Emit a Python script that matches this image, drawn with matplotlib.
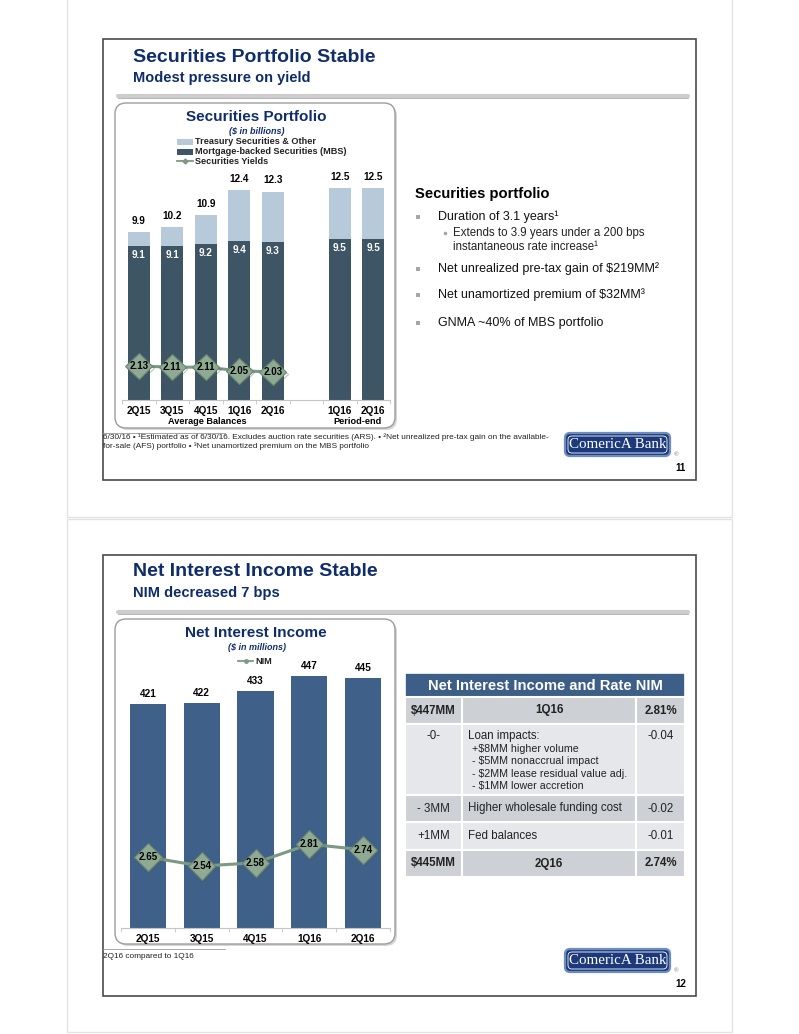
import matplotlib
matplotlib.use('Agg')
import matplotlib.pyplot as plt
from matplotlib.patches import Rectangle, FancyBboxPatch
import matplotlib.patheffects as pe
import numpy as np

W, H = 799, 1034
plt.rcParams['font.family'] = ['Liberation Sans', 'DejaVu Sans']

# ---------------- data ----------------
sec_labels = ['2Q15', '3Q15', '4Q15', '1Q16', '2Q16', '1Q16', '2Q16']
sec_pos = [0, 1, 2, 3, 4, 6, 7]
sec_total = [9.9, 10.2, 10.9, 12.4, 12.3, 12.5, 12.5]
sec_mbs = [9.1, 9.1, 9.2, 9.4, 9.3, 9.5, 9.5]
sec_yields = [2.13, 2.11, 2.11, 2.05, 2.03]

nii_labels = ['2Q15', '3Q15', '4Q15', '1Q16', '2Q16']
nii_values = [421, 422, 433, 447, 445]
nim_values = [2.65, 2.54, 2.58, 2.81, 2.74]

table_header = 'Net Interest Income and Rate NIM'
table_rows = [
    ('$447MM', '1Q16', '2.81%'),
    ('-0-', 'Loan impacts:', '-0.04'),
    ('- 3MM', 'Higher wholesale funding cost', '-0.02'),
    ('+1MM', 'Fed balances', '-0.01'),
    ('$445MM', '2Q16', '2.74%'),
]
loan_sub = ['+$8MM higher volume', '- $5MM nonaccrual impact',
            '- $2MM lease residual value adj.', '- $1MM lower accretion']

# ---------------- style ----------------
NAVY = '#0f2d6c'
MBS_C = '#3e5566'
TREAS_C = '#b7cad9'
NII_C = '#3f6189'
DIA_FACE = '#8eaa93'
DIA_EDGE = '#6a8771'
LINE_C = '#7b9a82'
SHADOW = [pe.SimpleLineShadow(offset=(1.2, -1.2), alpha=0.35, shadow_color='#555555'), pe.Normal()]

fig = plt.figure(figsize=(W / 100, H / 100), dpi=100)
ov = fig.add_axes([0, 0, 1, 1])
ov.set_xlim(0, W)
ov.set_ylim(H, 0)
ov.axis('off')


def fbox(x0, y0, x1, y1):
    return [x0 / W, 1 - y1 / H, (x1 - x0) / W, (y1 - y0) / H]


def txt(x, y, s, size, color='black', weight='normal', ha='left', style='normal', **kw):
    ov.text(x, y, s, fontsize=size, color=color, fontweight=weight, ha=ha,
            va='center', fontstyle=style, **kw)


# pages
ov.add_patch(Rectangle((67, -5), 665, 522, fc='white', ec='#e2e2e2', lw=1))
ov.add_patch(Rectangle((67, 519), 665, 513, fc='white', ec='#e2e2e2', lw=1))

for off, num in ((0, '11'), (516, '12')):
    ov.add_patch(Rectangle((103, 39 + off), 593, 441, fc='white', ec='#4a4a4a', lw=1.2))
    ov.plot([118, 688], [96 + off] * 2, color='#cdcdcd', lw=3, solid_capstyle='round')
    ov.plot([118, 688], [97.6 + off] * 2, color='#a9a9a9', lw=0.6)
    # chart box
    ov.add_patch(FancyBboxPatch((117, 105 + off), 280, 325, boxstyle='round,pad=0,rounding_size=11',
                                fc='#d6d6d6', ec='none'))
    ov.add_patch(FancyBboxPatch((115, 103 + off), 280, 325, boxstyle='round,pad=0,rounding_size=11',
                                fc='white', ec='#9c9c9c', lw=1))
    ov.plot([103, 225], [433 + off] * 2, color='#9a9a9a', lw=0.6)
    # logo
    ov.add_patch(FancyBboxPatch((565, 433 + off), 105, 23, boxstyle='round,pad=0,rounding_size=5',
                                fc='#1c3a7b', ec='#6d8cc0', lw=1.6))
    ov.add_patch(FancyBboxPatch((568, 436 + off), 99, 17, boxstyle='round,pad=0,rounding_size=4',
                                fc='none', ec='white', lw=0.6))
    txt(617.5, 444.5 + off, 'ComericA Bank', 10.8, color='white', ha='center', family='Liberation Serif')
    txt(676, 455 + off, '®', 4.5, color='#777777', ha='center')
    txt(681, 468 + off, num, 7, weight='bold', ha='center')

# titles
txt(133, 57, 'Securities Portfolio Stable', 14, color=NAVY, weight='bold')
txt(133, 78, 'Modest pressure on yield', 10.5, color=NAVY, weight='bold')
txt(133, 572, 'Net Interest Income Stable', 14, color=NAVY, weight='bold')
txt(133, 593, 'NIM decreased 7 bps', 10.5, color=NAVY, weight='bold')

# ---------------- chart 1 ----------------
txt(256, 117, 'Securities Portfolio', 11, color=NAVY, weight='bold', ha='center')
txt(257, 131, '($ in billions)', 6.5, color=NAVY, weight='bold', ha='center', style='italic')
ov.add_patch(Rectangle((177, 139), 16, 6, fc=TREAS_C, ec='none'))
txt(195, 142, 'Treasury Securities & Other', 6.6, weight='bold', color='#222222')
ov.add_patch(Rectangle((177, 149), 16, 6, fc=MBS_C, ec='none'))
txt(195, 152, 'Mortgage-backed Securities (MBS)', 6.6, weight='bold', color='#222222')
ov.plot([177, 193], [161, 161], color=LINE_C, lw=1.3)
ov.plot([185], [161], marker='D', ms=2.5, color=LINE_C)
txt(195, 161, 'Securities Yields', 6.6, weight='bold', color='#222222')

treas = [t - m for t, m in zip(sec_total, sec_mbs)]
ax1 = fig.add_axes(fbox(122, 170, 390, 400))
ax1.patch.set_alpha(0)
ax1.bar(sec_pos, sec_mbs, width=0.65, color=MBS_C)
ax1.bar(sec_pos, treas, bottom=sec_mbs, width=0.65, color=TREAS_C)
ax1.set_xlim(-0.5, 7.5)
ax1.set_ylim(0, 230 / 16.95)
for s in ('top', 'left', 'right'):
    ax1.spines[s].set_visible(False)
ax1.spines['bottom'].set_color('#c4c4c4')
ax1.spines['bottom'].set_linewidth(0.8)
ax1.set_yticks([])
ax1.set_xticks(sec_pos, sec_labels, fontsize=7.2, fontweight='bold')
ax1.set_xticks(np.arange(-0.5, 8, 1), minor=True)
ax1.tick_params(axis='x', which='major', length=0, pad=4)
ax1.tick_params(axis='x', which='minor', length=3, color='#c4c4c4')
for p, t, m in zip(sec_pos, sec_total, sec_mbs):
    ax1.annotate(f'{t:.1f}', (p, t), xytext=(0, 8), textcoords='offset points',
                 ha='center', va='center', fontsize=7.2, fontweight='bold')
    ax1.annotate(f'{m:.1f}', (p, m), xytext=(0, -6.5), textcoords='offset points',
                 ha='center', va='center', fontsize=7.2, fontweight='bold', color='white')
ax1b = ax1.twinx()
ax1b.set_ylim(1.563, 1.563 + 230 / 60)
ax1b.axis('off')
ax1b.plot(sec_pos[:5], sec_yields, color=LINE_C, lw=2.2)
ax1b.plot(sec_pos[:5], sec_yields, ls='none', marker='D', ms=13.5,
          mfc=DIA_FACE, mec=DIA_EDGE, mew=0.8, path_effects=SHADOW)
for p, v in zip(sec_pos, sec_yields):
    ax1b.text(p, v, f'{v:.2f}', ha='center', va='center', fontsize=7, fontweight='bold')
txt(207, 421, 'Average Balances', 6.6, weight='bold', ha='center')
txt(357, 421, 'Period-end', 6.6, weight='bold', ha='center')

# right text slide 1
txt(415, 194, 'Securities portfolio', 10.6, weight='bold')
bul = [(217, 'Duration of 3.1 years¹'), (269, 'Net unrealized pre-tax gain of $219MM²'),
       (295, 'Net unamortized premium of $32MM³'), (323, 'GNMA ~40% of MBS portfolio')]
for y, s in bul:
    ov.add_patch(Rectangle((416, y - 2), 3.5, 3.5, fc='#a6a6a6', ec='none'))
    txt(438, y, s, 9, color='#111111')
ov.plot([445], [233], marker='o', ms=1.6, color='#a6a6a6')
txt(453, 233, 'Extends to 3.9 years under a 200 bps', 8.3, color='#222222')
txt(453, 247, 'instantaneous rate increase¹', 8.3, color='#222222')

txt(103, 437, '6/30/16 • ¹Estimated as of 6/30/16. Excludes auction rate securities (ARS). • ²Net unrealized pre-tax gain on the available-',
    5.95, color='#222222')
txt(103, 446, 'for-sale (AFS) portfolio • ³Net unamortized premium on the MBS portfolio', 5.95, color='#222222')

# ---------------- chart 2 ----------------
txt(256, 633, 'Net Interest Income', 11, color=NAVY, weight='bold', ha='center')
txt(257, 647, '($ in millions)', 6.5, color=NAVY, weight='bold', ha='center', style='italic')
ov.plot([238, 253], [661, 661], color=LINE_C, lw=1.3)
ov.plot([245.5], [661], marker='o', ms=2.5, color=LINE_C)
txt(255, 661, 'NIM', 6.6, weight='bold', color='#222222')

x2 = np.arange(len(nii_labels))
ax2 = fig.add_axes(fbox(121, 660, 390, 928))
ax2.patch.set_alpha(0)
ax2.bar(x2, nii_values, width=0.67, color=NII_C)
ax2.set_xlim(-0.5, 4.5)
ax2.set_ylim(213, 213 + 268 / 1.077)
for s in ('top', 'left', 'right'):
    ax2.spines[s].set_visible(False)
ax2.spines['bottom'].set_color('#c4c4c4')
ax2.spines['bottom'].set_linewidth(0.8)
ax2.set_yticks([])
ax2.set_xticks(x2, nii_labels, fontsize=7.2, fontweight='bold')
ax2.set_xticks(np.arange(-0.5, 5, 1), minor=True)
ax2.tick_params(axis='x', which='major', length=0, pad=4.5)
ax2.tick_params(axis='x', which='minor', length=3, color='#c4c4c4')
for p, v in zip(x2, nii_values):
    ax2.annotate(f'{v}', (p, v), xytext=(0, 7.3), textcoords='offset points',
                 ha='center', va='center', fontsize=7.2, fontweight='bold')
ax2b = ax2.twinx()
ax2b.set_ylim(1.775, 1.775 + 268 / 81)
ax2b.axis('off')
ax2b.plot(x2, nim_values, color=LINE_C, lw=2.2)
ax2b.plot(x2, nim_values, ls='none', marker='D', ms=14,
          mfc=DIA_FACE, mec=DIA_EDGE, mew=0.8, path_effects=SHADOW)
for p, v in zip(x2, nim_values):
    ax2b.text(p, v, f'{v:.2f}', ha='center', va='center', fontsize=7, fontweight='bold')

txt(103, 956, '2Q16 compared to 1Q16', 5.95, color='#222222')

# ---------------- table ----------------
cols = [405, 462, 636, 685]
rows_y = [697, 724, 795, 822, 850, 877]
ov.add_patch(Rectangle((405, 673), 280, 24, fc='#3d5e86', ec='white', lw=1.2))
txt(545, 685.5, table_header, 10.6, color='white', weight='bold', ha='center')
row_colors = ['#cdd1d6', '#e5e7ea', '#cdd1d6', '#e5e7ea', '#cdd1d6']
for i, (r, c) in enumerate(zip(table_rows, row_colors)):
    y0, y1 = rows_y[i], rows_y[i + 1]
    for j in range(3):
        ov.add_patch(Rectangle((cols[j], y0), cols[j + 1] - cols[j], y1 - y0,
                               fc=c, ec='white', lw=1.5))
    bold = 'bold' if i in (0, 4) else 'normal'
    if i == 1:
        yt = y0 + 12
        txt((cols[0] + cols[1]) / 2, yt, r[0], 8.3, weight=bold, ha='center', color='#222222')
        txt(468, yt, r[1], 8.3, color='#222222')
        txt((cols[2] + cols[3]) / 2, yt, r[2], 8.3, ha='center', color='#222222')
        for k, s in enumerate(loan_sub):
            txt(472, 748.5 + k * 12.6, s, 7.7, color='#222222')
    else:
        yt = (y0 + y1) / 2
        txt((cols[0] + cols[1]) / 2, yt, r[0], 8.3, weight=bold, ha='center', color='#222222')
        if bold == 'bold':
            txt((cols[1] + cols[2]) / 2, yt, r[1], 8.3, weight=bold, ha='center', color='#222222')
        else:
            txt(468, yt, r[1], 8.3, color='#222222')
        txt((cols[2] + cols[3]) / 2, yt, r[2], 8.3, weight=bold, ha='center', color='#222222')

fig.savefig('out.png', dpi=100, facecolor='white')
